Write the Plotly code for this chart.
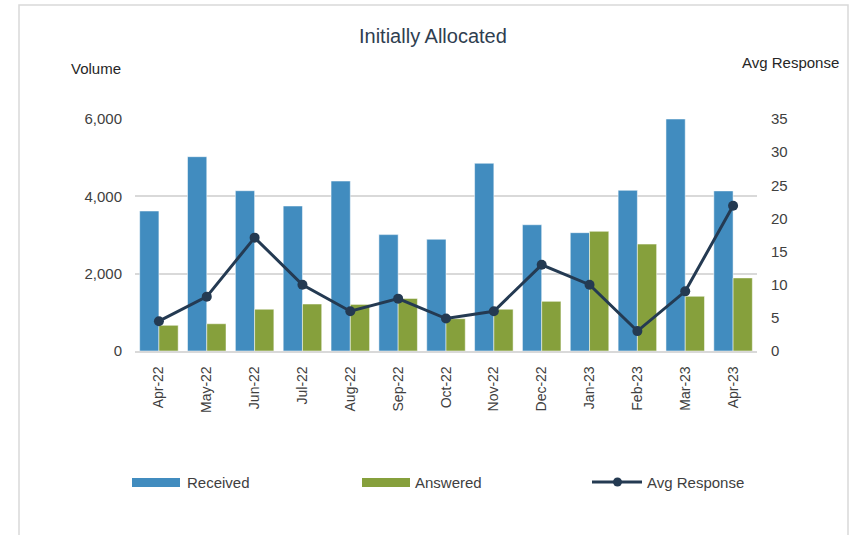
import plotly.graph_objects as go

months = ["Apr-22", "May-22", "Jun-22", "Jul-22", "Aug-22", "Sep-22", "Oct-22",
          "Nov-22", "Dec-22", "Jan-23", "Feb-23", "Mar-23", "Apr-23"]
received = [3620, 5025, 4145, 3750, 4395, 3010, 2890, 4855, 3265, 3060, 4155, 6000, 4140]
answered = [665, 705, 1080, 1215, 1205, 1360, 835, 1080, 1285, 3095, 2765, 1415, 1890]
avg_response = [4.5, 8.2, 17.1, 10.0, 6.0, 7.9, 4.9, 6.0, 13.0, 10.0, 3.0, 9.0, 21.9]

BLUE = "#418CBF"
GREEN = "#86A03C"
NAVY = "#243A52"
FONT = "Arial, Liberation Sans, sans-serif"

# plot area in pixels (used to place decorations in paper coords)
L, R, T, B = 135, 757, 119, 351
W, H = 850, 535


def px(x):
    return (x - L) / (R - L)


def py(y):
    return (B - y) / (B - T)


fig = go.Figure()
fig.add_trace(go.Bar(x=months, y=received, name="Received", marker_color=BLUE,
                     marker_line=dict(color="rgba(255,255,255,0.5)", width=1)))
fig.add_trace(go.Bar(x=months, y=answered, name="Answered", marker_color=GREEN,
                     marker_line=dict(color="rgba(255,255,255,0.5)", width=1)))
fig.add_trace(go.Scatter(x=months, y=avg_response, name="Avg Response", yaxis="y2",
                         mode="lines+markers", line=dict(color=NAVY, width=3),
                         marker=dict(color=NAVY, size=10)))

shapes = [
    # outer chart border
    dict(type="rect", xref="paper", yref="paper", x0=px(19), x1=px(848), y0=py(545), y1=py(5),
         line=dict(color="#D9D9D9", width=1.5), fillcolor="rgba(0,0,0,0)", layer="below"),
    # legend swatches
    dict(type="rect", xref="paper", yref="paper", x0=px(132), x1=px(180), y0=py(487), y1=py(478),
         line=dict(width=0), fillcolor=BLUE),
    dict(type="rect", xref="paper", yref="paper", x0=px(362), x1=px(410), y0=py(487), y1=py(478),
         line=dict(width=0), fillcolor=GREEN),
    dict(type="line", xref="paper", yref="paper", x0=px(592), x1=px(642), y0=py(482), y1=py(482),
         line=dict(color=NAVY, width=3)),
    dict(type="circle", xref="paper", yref="paper", x0=px(613), x1=px(622), y0=py(486.5), y1=py(477.5),
         line=dict(width=0), fillcolor=NAVY),
]

ann_font = dict(family=FONT, size=15, color="#404040")


def label(text, x, y, font, xanchor="center"):
    return dict(text=text, x=px(x), y=py(y), xref="paper", yref="paper",
                xanchor=xanchor, yanchor="middle", showarrow=False, font=font)


annotations = [
    label("Initially Allocated", 433, 36, dict(family=FONT, size=20, color="#2F3E50")),
    label("Volume", 96, 68, dict(family=FONT, size=15, color="#262626")),
    label("Avg Response", 791, 62, dict(family=FONT, size=15, color="#262626")),
    label("Received", 185, 482, ann_font, "left"),
    label("Answered", 413, 482, ann_font, "left"),
    label("Avg Response", 645, 482, ann_font, "left"),
]

fig.update_layout(
    width=W, height=H,
    margin=dict(l=L, r=W - R, t=T, b=H - B, pad=0),
    paper_bgcolor="white", plot_bgcolor="white",
    barmode="group", bargap=0.195, bargroupgap=0,
    showlegend=False,
    font=dict(family=FONT, size=13, color="#404040"),
    xaxis=dict(range=[-0.5, len(months) - 0.5], tickangle=-90, showgrid=False, showline=True,
               linecolor="#D9D9D9", linewidth=1.5, ticks="",
               tickfont=dict(size=14, color="#404040"), ticklabelstandoff=8),
    yaxis=dict(range=[0, 6000], dtick=2000, tickformat=",", showgrid=True,
               gridcolor="#D9D9D9", gridwidth=1.5, zeroline=False, ticks="",
               tickfont=dict(size=15, color="#404040"), ticklabelstandoff=12),
    yaxis2=dict(range=[0, 35], dtick=5, overlaying="y", side="right", showgrid=False,
                zeroline=False, ticks="", tickfont=dict(size=15, color="#404040"),
                ticklabelstandoff=13),
    shapes=shapes,
    annotations=annotations,
)

fig.write_html("out.html", config={"displayModeBar": False},
               post_script="document.body.style.margin='0px';")
